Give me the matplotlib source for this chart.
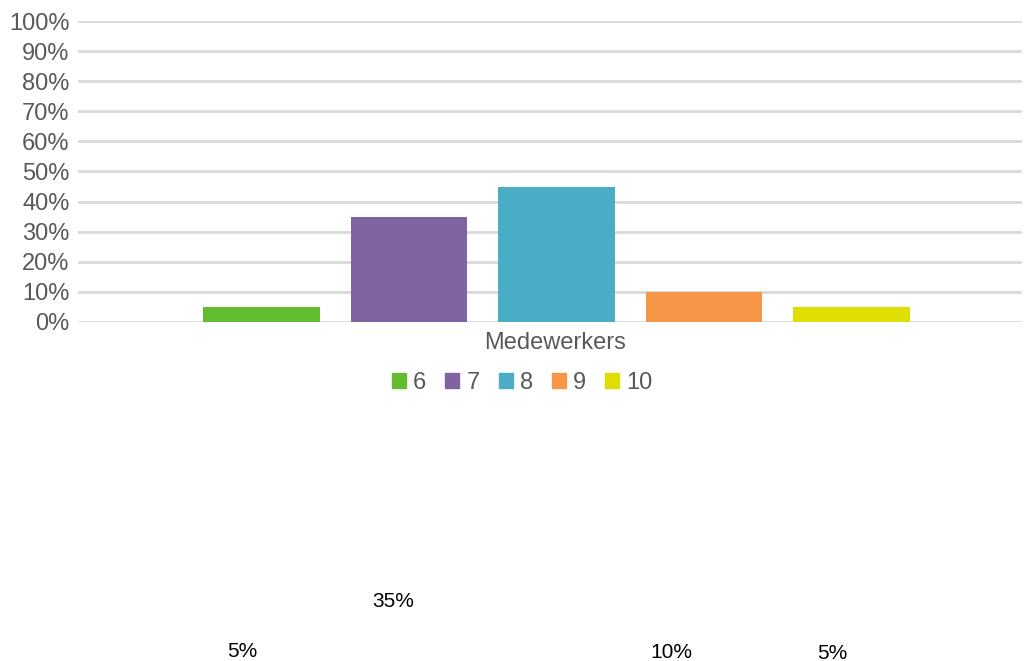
import matplotlib.pyplot as plt
from matplotlib.transforms import blended_transform_factory

plt.rcParams['font.family'] = ['Liberation Sans', 'DejaVu Sans']

# data
scores = ['6', '7', '8', '9', '10']
values = [5, 35, 45, 10, 5]
colors = ['#63BB2F', '#8064A2', '#4BACC6', '#F79646', '#DEDF00']
yticks = [0, 10, 20, 30, 40, 50, 60, 70, 80, 90, 100]
category = 'Medewerkers'
# odd label placements seen in the reference (figure y fraction), 45% label is missing
label_y = [0.0151, 0.0893, None, 0.0136, 0.0121]
label_dx = [-0.13, -0.11, 0, -0.22, -0.13]

fig = plt.figure(figsize=(10.24, 6.61), dpi=100)
ax = fig.add_axes([0.0762, 0.5129, 0.9219, 0.4553])

xs = list(range(len(scores)))
ax.bar(xs, values, width=0.79, color=colors, zorder=3)

ax.set_ylim(0, 100)
ax.set_xlim(-1.244, 5.156)
ax.set_yticks(yticks)
ax.set_yticklabels([f'{t}%' for t in yticks], fontsize=17, color='#595959')
ax.set_xticks([])
ax.tick_params(axis='y', length=0, pad=6)
ax.grid(axis='y', color='#D9D9D9', linewidth=2, zorder=0)
for s in ax.spines.values():
    s.set_visible(False)

fig.text(0.5425, 1 - 343 / 661, category, ha='center', va='center',
         fontsize=17, color='#595959')

handles = [plt.Rectangle((0, 0), 1, 1, color=c) for c in colors]
fig.legend(handles, scores, loc='center', bbox_to_anchor=(0.51, 1 - 383 / 661),
           ncol=5, frameon=False, fontsize=17, handlelength=0.6, handleheight=0.6,
           handletextpad=0.3, columnspacing=0.8, labelcolor='#595959')

trans = blended_transform_factory(ax.transData, fig.transFigure)
for x, v, y, dx in zip(xs, values, label_y, label_dx):
    if y is None:
        continue
    ax.text(x + dx, y, f'{v}%', transform=trans, ha='center', va='center',
            fontsize=15, color='black', clip_on=False)

fig.savefig('out.png', dpi=100)
